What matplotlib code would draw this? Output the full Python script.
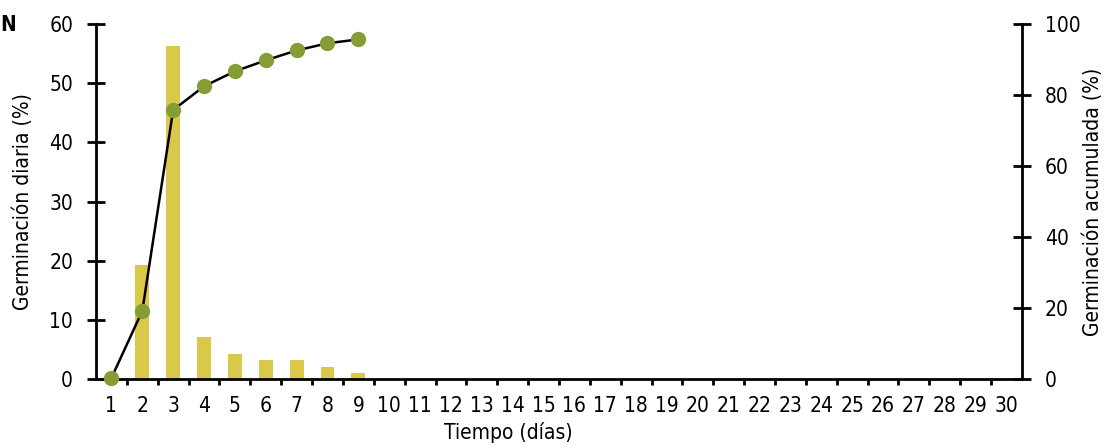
import matplotlib.pyplot as plt
import numpy as np

plt.rcParams['font.family'] = ['DejaVu Sans']
plt.rcParams['font.stretch'] = 'condensed'

days = list(range(1, 31))
daily = [0, 19.2, 56.3, 7.1, 4.2, 3.2, 3.2, 2.0, 1.0] + [0] * 21
cum_days = [1, 2, 3, 4, 5, 6, 7, 8, 9]
cumulative = [0.3, 19.2, 75.8, 82.5, 86.7, 89.8, 92.6, 94.6, 95.7]

bar_color = '#d9c84a'
dot_color = '#869d35'

fig = plt.figure(figsize=(11.06, 4.47), dpi=100)
ax = fig.add_axes([0.0868, 0.152, 0.8372, 0.794])
ax2 = ax.twinx()

ax.bar(days, daily, width=0.45, color=bar_color, zorder=2)
ax2.plot(cum_days, cumulative, color='black', lw=1.8, zorder=3,
         marker='o', markersize=10, markerfacecolor=dot_color,
         markeredgecolor=dot_color, clip_on=False)

ax.set_xlim(0.5, 30.5)
ax.set_ylim(0, 60)
ax2.set_ylim(0, 100)

fs = 15
ax.set_xticks(days)
ax.set_xticks(np.arange(1.5, 30, 1), minor=True)
ax.tick_params(axis='x', which='major', length=0, labelsize=fs, pad=12)
ax.tick_params(axis='x', which='minor', length=4, width=2, direction='out')
ax.set_yticks(range(0, 61, 10))
ax.tick_params(axis='y', direction='inout', length=13, width=2, labelsize=fs, pad=10)
ax2.set_yticks(range(0, 101, 20))
ax2.tick_params(axis='y', direction='inout', length=13, width=2, labelsize=fs, pad=10)

for a in (ax, ax2):
    a.spines['top'].set_visible(False)
    for s in ('left', 'right', 'bottom'):
        a.spines[s].set_linewidth(2)
ax.spines['right'].set_visible(False)
ax2.spines['left'].set_visible(False)
ax2.spines['bottom'].set_visible(False)

ax.set_ylabel('Germinación diaria (%)', fontsize=fs, va='center')
ax.yaxis.set_label_coords(-0.079, 0.5)
ax2.set_ylabel('Germinación acumulada (%)', fontsize=fs, va='center')
ax2.yaxis.set_label_coords(1.076, 0.5)
ax.set_xlabel('Tiempo (días)', fontsize=fs, va='center')
ax.xaxis.set_label_coords(0.445, -0.15)

fig.text(0.0, 0.93, 'N', fontsize=fs, fontweight='bold')

fig.savefig('out.png', dpi=100)
